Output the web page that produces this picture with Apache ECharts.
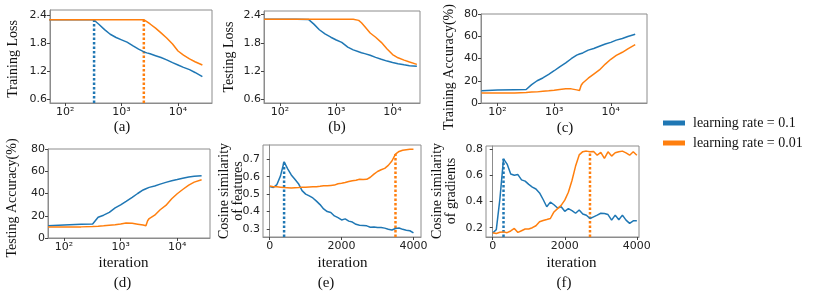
<!DOCTYPE html>
<html><head><meta charset="utf-8">
<script src="https://cdn.jsdelivr.net/npm/echarts@6/dist/echarts.min.js"></script>
<style>html,body{margin:0;padding:0;background:#fff}#c{width:814px;height:296px}</style>
</head><body><div id="c"></div><script>
// ---------- data ----------
const seriesNames = ['learning rate = 0.1', 'learning rate = 0.01'];
const logIters = [52,100,200,320,400,500,630,800,1000,1250,1600,2000,2500,2800,3000,3200,4000,5000,6300,8000,10000,12500,16000,20000,27000];
const linIters = [0,100,200,300,400,500,600,700,800,900,1000,1100,1200,1300,1400,1500,1600,1700,1800,1900,2000,2100,2200,2300,2400,2500,2600,2700,2800,2900,3000,3100,3200,3300,3400,3500,3600,3700,3800,3900,4000];

const trainLossBlue   = [2.303,2.303,2.303,2.30,2.20,2.09,1.99,1.92,1.87,1.82,1.74,1.67,1.61,1.59,1.58,1.57,1.53,1.49,1.44,1.38,1.33,1.28,1.23,1.17,1.08];
const trainLossOrange = [2.303,2.303,2.303,2.303,2.303,2.303,2.303,2.303,2.303,2.303,2.303,2.303,2.30,2.26,2.24,2.21,2.12,2.02,1.91,1.78,1.63,1.54,1.46,1.40,1.33];
const testLossBlue    = [2.303,2.303,2.303,2.30,2.20,2.08,1.99,1.92,1.86,1.81,1.71,1.65,1.61,1.59,1.58,1.57,1.535,1.49,1.45,1.41,1.38,1.355,1.33,1.31,1.30];
const testLossOrange  = [2.303,2.303,2.303,2.303,2.303,2.303,2.303,2.303,2.303,2.303,2.303,2.303,2.28,2.23,2.19,2.15,2.01,1.92,1.81,1.67,1.55,1.48,1.43,1.39,1.34];
const trainAccBlue    = [11,11.6,12,12.1,16.5,20,22.5,25.8,29,32.5,36,39.8,43,44,44.5,45,47.5,49,51,53,54.5,56.5,58,59.8,61.8];
const trainAccOrange  = [9,9,9.1,9.5,9.8,10,10.5,11,11.5,12.2,12.7,12.7,11.8,11.3,16,18,22.3,26,29.7,35,39.3,42.8,45.6,48.7,52.5];
const testAccBlue     = [11,11.7,12.3,12.6,18.7,20.5,23,27,29.8,33,36.6,40,43.2,44.3,45,45.5,46.7,48.4,50,51.4,52.5,53.7,54.9,55.5,56];
const testAccOrange   = [9.9,10,10,10.3,10.6,11,11.5,11.9,12.6,13.4,13.2,12.4,11.6,11.1,15.5,17.5,20.5,25.4,29.3,35.3,39.8,43.6,47.6,50.2,52.4];

const featSimBlue   = [0.543,0.538,0.555,0.605,0.686,0.645,0.61,0.585,0.56,0.52,0.50,0.49,0.478,0.46,0.44,0.415,0.40,0.395,0.375,0.365,0.352,0.358,0.345,0.34,0.327,0.322,0.32,0.318,0.31,0.312,0.308,0.309,0.305,0.298,0.294,0.303,0.306,0.298,0.293,0.29,0.278];
const featSimOrange = [0.547,0.543,0.542,0.54,0.538,0.537,0.535,0.537,0.538,0.54,0.54,0.541,0.542,0.543,0.545,0.548,0.548,0.55,0.552,0.56,0.563,0.567,0.572,0.577,0.58,0.585,0.584,0.585,0.597,0.615,0.63,0.64,0.648,0.665,0.69,0.73,0.745,0.752,0.755,0.757,0.758];
const gradSimBlue   = [0.16,0.185,0.42,0.725,0.685,0.61,0.60,0.605,0.565,0.555,0.53,0.51,0.495,0.465,0.415,0.36,0.395,0.375,0.35,0.36,0.325,0.345,0.33,0.31,0.335,0.305,0.295,0.27,0.283,0.296,0.31,0.308,0.30,0.258,0.296,0.26,0.296,0.258,0.233,0.252,0.252];
const gradSimOrange = [0.161,0.156,0.165,0.168,0.162,0.175,0.194,0.164,0.177,0.19,0.19,0.20,0.215,0.245,0.255,0.262,0.27,0.32,0.345,0.37,0.41,0.47,0.56,0.67,0.755,0.78,0.784,0.779,0.781,0.753,0.775,0.728,0.779,0.746,0.771,0.779,0.784,0.771,0.753,0.779,0.753];

// dotted markers: iteration, value reached
const markA = { x: [326, 2480], top: [2.30, 2.30] };
const markE = { x: [400, 3500], top: [0.686, 0.73] };
const markF = { x: [300, 2700], top: [0.725, 0.78] };

const logTicks = [100, 1000, 10000];
const logTickLabels = ['10\u00B2', '10\u00B3', '10\u2074'];
const lossTicks = [0.6, 1.2, 1.8, 2.4];
const accTicks = [0, 20, 40, 60, 80];
const linTicks = [0, 2000, 4000];
const featTicks = [0.3, 0.4, 0.5, 0.6, 0.7];
const gradTicks = [0.2, 0.4, 0.6, 0.8];

// ---------- layout ----------
const COLORS = ['#1f77b4', '#ff7f0e'];
const panels = [
  { grid:{left:50, top:10, width:162, height:93},  x:{type:'log', min:54, max:40000, ticks:logTicks}, y:{min:0.515, max:2.51, ticks:lossTicks, dec:1},
    xs:logIters, blue:trainLossBlue, orange:trainLossOrange, mark:markA },
  { grid:{left:264, top:11, width:156, height:92}, x:{type:'log', min:52, max:30700, ticks:logTicks}, y:{min:0.515, max:2.48, ticks:lossTicks, dec:1},
    xs:logIters, blue:testLossBlue, orange:testLossOrange },
  { grid:{left:481, top:14, width:166, height:89}, x:{type:'log', min:51, max:43600, ticks:logTicks}, y:{min:0, max:80, ticks:accTicks, dec:0},
    xs:logIters, blue:trainAccBlue, orange:trainAccOrange },
  { grid:{left:48, top:149, width:162, height:89}, x:{type:'log', min:52, max:38000, ticks:logTicks}, y:{min:0, max:80, ticks:accTicks, dec:0},
    xs:logIters, blue:testAccBlue, orange:testAccOrange },
  { grid:{left:263, top:145, width:158, height:92}, x:{type:'value', min:-187, max:4210, ticks:linTicks}, y:{min:0.254, max:0.782, ticks:featTicks, dec:1},
    xs:linIters, blue:featSimBlue, orange:featSimOrange, mark:markE },
  { grid:{left:486, top:146, width:153, height:91}, x:{type:'value', min:-186, max:4060, ticks:linTicks}, y:{min:0.129, max:0.823, ticks:gradTicks, dec:1},
    xs:linIters, blue:gradSimBlue, orange:gradSimOrange, mark:markF }
];

const tickFont = { fontFamily: 'DejaVu Sans', fontSize: 11, color: '#222' };
const grids = [], xAxes = [], yAxes = [], series = [];
panels.forEach((p, i) => {
  grids.push(Object.assign({ show: true, borderColor: '#8c8c8c', borderWidth: 1, backgroundColor: 'transparent' }, p.grid));
  xAxes.push({
    type: p.x.type, gridIndex: i, min: p.x.min, max: p.x.max, logBase: 10,
    axisLine: { show: true, lineStyle: { color: '#8c8c8c', width: 1 } },
    axisTick: { show: true, length: 3, lineStyle: { color: '#444' }, customValues: p.x.ticks },
    axisLabel: Object.assign({ margin: 4, customValues: p.x.ticks,
      formatter: v => p.x.type === 'log' ? logTickLabels[logTicks.indexOf(Math.round(v))] || '' : String(Math.round(v)) }, tickFont),
    splitLine: { show: false }, minorTick: { show: false }
  });
  yAxes.push({
    type: 'value', gridIndex: i, min: p.y.min, max: p.y.max,
    axisLine: { show: true, lineStyle: { color: '#8c8c8c', width: 1 } },
    axisTick: { show: true, length: 3, lineStyle: { color: '#444' }, customValues: p.y.ticks },
    axisLabel: Object.assign({ margin: 3, customValues: p.y.ticks, formatter: v => Number(v).toFixed(p.y.dec) }, tickFont),
    splitLine: { show: false }
  });
  [p.blue, p.orange].forEach((ys, k) => {
    series.push({
      type: 'line', name: seriesNames[k], xAxisIndex: i, yAxisIndex: i,
      data: p.xs.map((x, j) => [x, ys[j]]), showSymbol: false, symbol: 'none',
      lineStyle: { color: COLORS[k], width: 1.5 }, itemStyle: { color: COLORS[k] },
      z: 3, animation: false, silent: true
    });
  });
  if (p.mark) {
    p.mark.x.forEach((mx, k) => {
      series.push({
        type: 'line', name: 'marker' + i + k, xAxisIndex: i, yAxisIndex: i,
        data: [[mx, p.y.min], [mx, p.mark.top[k]]], showSymbol: false, symbol: 'none',
        lineStyle: { color: COLORS[k], width: 2.5, type: [2.5, 2] },
        z: 2, animation: false, silent: true
      });
    });
  }
});

// ---------- text ----------
const serif = 'Liberation Serif';
function txt(text, x, y, size, rot) {
  return { type: 'text', x: x, y: y, rotation: rot ? Math.PI / 2 : 0, silent: true,
    style: { text: text, font: size + 'px "' + serif + '"', fill: '#111', textAlign: 'center', textVerticalAlign: 'middle' } };
}
const graphics = [
  txt('Training Loss', 13, 59, 14, true),
  txt('Testing Loss', 229, 57, 14, true),
  txt('Training Accuracy(%)', 449, 67, 14, true),
  txt('Testing Accuracy(%)', 12.5, 198, 14, true),
  txt('Cosine similarity\nof features', 231, 191, 14, true),
  txt('Cosine similarity\nof gradients', 444.5, 191, 14, true),
  txt('(a)', 122, 127, 15), txt('(b)', 337, 127, 15), txt('(c)', 565, 128, 15),
  txt('iteration', 123.5, 263, 15), txt('iteration', 342.5, 263, 15), txt('iteration', 571.5, 263, 15),
  txt('(d)', 122.5, 283, 15), txt('(e)', 326, 283, 15), txt('(f)', 564, 283, 15)
];

const chart = echarts.init(document.getElementById('c'), null, { renderer: 'canvas' });
chart.setOption({
  animation: false,
  color: COLORS,
  grid: grids, xAxis: xAxes, yAxis: yAxes, series: series,
  legend: {
    data: seriesNames, orient: 'vertical', left: 663, top: 116, padding: 0,
    itemWidth: 22, itemHeight: 5, itemGap: 6, icon: 'rect', selectedMode: false,
    textStyle: { fontFamily: serif, fontSize: 14, color: '#111', padding: [0, 0, 0, 3] }
  },
  graphic: graphics
});
</script></body></html>
